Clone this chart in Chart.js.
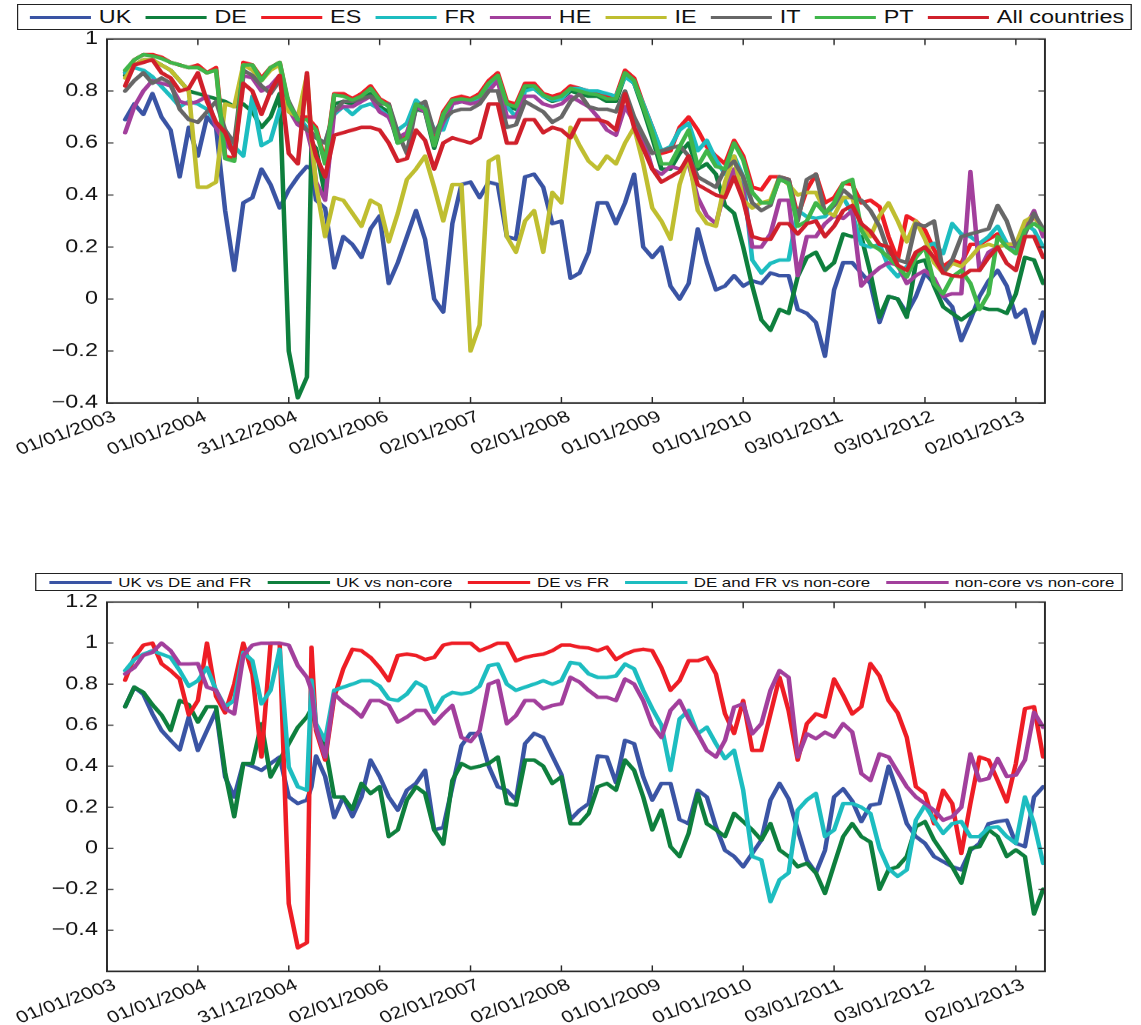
<!DOCTYPE html>
<html>
<head>
<meta charset="utf-8">
<script src="https://cdn.jsdelivr.net/npm/chart.js@4.4.1/dist/chart.umd.min.js"></script>
<style>
  html, body { margin: 0; padding: 0; background: #fff; }
  /* the reference figure is stretched sideways, so the page is drawn narrow and widened */
  #page { position: absolute; left: 0; top: 0; width: 878px; height: 1025px;
          transform: scaleX(1.2995); transform-origin: 0 0;
          font-family: "Liberation Sans", Arial, sans-serif; color: #111; }
  .legend { position: absolute; box-sizing: border-box; border: 1px solid #222; background: #fff;
            display: flex; align-items: center; white-space: nowrap; }
  .legend .item { display: flex; align-items: center; }
  .legend .swatch { display: inline-block; height: 3px; }
  #topLegend { left: 13px; top: 4px; width: 858px; height: 26px; padding-left: 9px; font-size: 18px; }
  #topLegend .swatch { width: 47px; margin-right: 6px; }
  #topLegend .item { margin-right: 11px; }
  #botLegend { left: 27px; top: 573px; width: 837px; height: 18px; padding-left: 10px; font-size: 13px; }
  #botLegend .swatch { width: 48px; margin-right: 5px; }
  #botLegend .item { margin-right: 12px; }
  canvas { position: absolute; left: 0; }
  #topChart { top: 0; }
  #botChart { top: 540px; }
</style>
</head>
<body>
<div id="page">
  <canvas id="topChart" width="878" height="470" style="width:878px;height:470px"></canvas>
  <canvas id="botChart" width="878" height="485" style="width:878px;height:485px"></canvas>
  <div id="topLegend" class="legend"></div>
  <div id="botLegend" class="legend"></div>
</div>
<script>
const FONT = '"Liberation Sans", Arial, sans-serif';

// sample dates as fractional years
const dates = [
  2003.2, 2003.3, 2003.4, 2003.5, 2003.6, 2003.7, 2003.8, 2003.9, 2004.0, 2004.1,
  2004.2, 2004.3, 2004.4, 2004.5, 2004.6, 2004.7, 2004.8, 2004.9, 2005.0, 2005.1,
  2005.2, 2005.25, 2005.3, 2005.4, 2005.5, 2005.6, 2005.7, 2005.8, 2005.9, 2006.0, 2006.1,
  2006.2, 2006.3, 2006.4, 2006.5, 2006.6, 2006.7, 2006.8, 2006.9, 2007.0, 2007.1,
  2007.2, 2007.3, 2007.4, 2007.5, 2007.6, 2007.7, 2007.8, 2007.9, 2008.0, 2008.1,
  2008.2, 2008.3, 2008.4, 2008.5, 2008.6, 2008.7, 2008.8, 2008.9, 2009.0, 2009.1,
  2009.2, 2009.3, 2009.4, 2009.5, 2009.6, 2009.7, 2009.8, 2009.9, 2010.0, 2010.1,
  2010.2, 2010.3, 2010.4, 2010.5, 2010.6, 2010.7, 2010.8, 2010.9, 2011.0, 2011.1,
  2011.2, 2011.3, 2011.4, 2011.5, 2011.6, 2011.7, 2011.8, 2011.9, 2012.0, 2012.1,
  2012.2, 2012.3, 2012.4, 2012.5, 2012.6, 2012.7, 2012.8, 2012.9, 2013.0, 2013.1,
  2013.2, 2013.3
];

const xTickYears = [2003, 2004, 2005, 2006, 2007, 2008, 2009, 2010, 2011, 2012, 2013];
const xTickLabels = ['01/01/2003', '01/01/2004', '31/12/2004', '02/01/2006', '02/01/2007', '02/01/2008',
                     '01/01/2009', '01/01/2010', '03/01/2011', '03/01/2012', '02/01/2013'];

const topTicks = [-0.4, -0.2, 0, 0.2, 0.4, 0.6, 0.8, 1];
const botTicks = [-0.4, -0.2, 0, 0.2, 0.4, 0.6, 0.8, 1, 1.2];

// ---- top panel ----
const topNames = ['UK', 'DE', 'ES', 'FR', 'HE', 'IE', 'IT', 'PT', 'All countries'];
const topColors = ['#3a54a4', '#0e7f3d', '#ee1d25', '#1dbdc0', '#a23f9c', '#bfbe30', '#676767', '#40b64a', '#d0202b'];

const ukTop = [
  0.69, 0.75, 0.71, 0.79, 0.70, 0.65, 0.47, 0.66, 0.55, 0.70,
  0.66, 0.34, 0.11, 0.37, 0.39, 0.50, 0.44, 0.35, 0.42, 0.47,
  0.51, 0.50, 0.38, 0.35, 0.12, 0.24, 0.21, 0.16, 0.27, 0.32, 0.06,
  0.14, 0.24, 0.34, 0.23, 0.00, -0.05, 0.29, 0.44, 0.45, 0.39,
  0.45, 0.44, 0.24, 0.23, 0.47, 0.48, 0.43, 0.29, 0.30, 0.08,
  0.10, 0.18, 0.37, 0.37, 0.29, 0.37, 0.48, 0.20, 0.16, 0.20,
  0.05, 0.00, 0.06, 0.27, 0.14, 0.035, 0.05, 0.09, 0.05, 0.07,
  0.06, 0.10, 0.09, 0.09, -0.04, -0.055, -0.09, -0.22, 0.035, 0.14,
  0.14, 0.10, 0.06, -0.09, 0.01, 0.00, -0.055, 0.01, 0.10, 0.06,
  0.01, -0.03, -0.16, -0.08, 0.01, 0.07, 0.11, 0.05, -0.07, -0.04,
  -0.17, -0.05
];
const deTop = [
  0.86, 0.90, 0.92, 0.92, 0.90, 0.88, 0.84, 0.80, 0.79, 0.78,
  0.77, 0.76, 0.74, 0.75, 0.72, 0.66, 0.70, 0.79, -0.20, -0.38,
  -0.30, 0.60, 0.58, 0.40, 0.75, 0.76, 0.75, 0.77, 0.79, 0.74, 0.72,
  0.60, 0.62, 0.73, 0.72, 0.58, 0.70, 0.76, 0.76, 0.76, 0.77,
  0.82, 0.85, 0.74, 0.73, 0.81, 0.81, 0.78, 0.76, 0.77, 0.80,
  0.79, 0.78, 0.78, 0.76, 0.76, 0.86, 0.83, 0.73, 0.62, 0.50,
  0.50, 0.56, 0.60, 0.50, 0.52, 0.48, 0.36, 0.33, 0.20, 0.05,
  -0.08, -0.12, -0.04, -0.055, 0.086, 0.16, 0.18, 0.11, 0.14, 0.25,
  0.24, 0.24, 0.10, -0.07, 0.01, 0.00, -0.07, 0.14, 0.15, 0.05,
  -0.03, -0.055, -0.08, -0.055, -0.03, -0.04, -0.04, -0.055, 0.02, 0.16,
  0.15, 0.06
];
const esTop = [
  0.87, 0.92, 0.94, 0.94, 0.93, 0.91, 0.90, 0.89, 0.90, 0.87,
  0.89, 0.55, 0.54, 0.91, 0.90, 0.85, 0.89, 0.91, 0.74, 0.70,
  0.70, 0.68, 0.66, 0.53, 0.79, 0.79, 0.77, 0.79, 0.82, 0.77, 0.75,
  0.61, 0.63, 0.76, 0.74, 0.60, 0.72, 0.77, 0.78, 0.77, 0.79,
  0.84, 0.87, 0.76, 0.75, 0.83, 0.83, 0.79, 0.78, 0.79, 0.82,
  0.81, 0.80, 0.79, 0.78, 0.78, 0.88, 0.85, 0.75, 0.66, 0.56,
  0.57, 0.66, 0.70, 0.65, 0.585, 0.55, 0.52, 0.61, 0.55, 0.43,
  0.42, 0.47, 0.47, 0.46, 0.32, 0.42, 0.48, 0.37, 0.39, 0.445,
  0.44, 0.37, 0.38, 0.355, 0.24, 0.15, 0.32, 0.30, 0.265, 0.19,
  0.125, 0.15, 0.137, 0.21, 0.21, 0.23, 0.25, 0.21, 0.21, 0.265,
  0.32, 0.265
];
const frTop = [
  0.87, 0.89, 0.88, 0.855, 0.817, 0.78, 0.74, 0.76, 0.75, 0.73,
  0.676, 0.65, 0.586, 0.55, 0.78, 0.59, 0.61, 0.73, 0.74, 0.70,
  0.66, 0.64, 0.62, 0.60, 0.71, 0.74, 0.71, 0.74, 0.75, 0.73, 0.70,
  0.65, 0.676, 0.765, 0.73, 0.65, 0.65, 0.75, 0.76, 0.76, 0.77,
  0.82, 0.855, 0.74, 0.70, 0.80, 0.81, 0.78, 0.765, 0.77, 0.81,
  0.81, 0.80, 0.80, 0.79, 0.78, 0.855, 0.83, 0.75, 0.66, 0.57,
  0.586, 0.65, 0.676, 0.57, 0.61, 0.535, 0.48, 0.55, 0.47, 0.15,
  0.10, 0.137, 0.15, 0.15, 0.34, 0.317, 0.31, 0.317, 0.36, 0.39,
  0.33, 0.21, 0.20, 0.21, 0.125, 0.086, 0.125, 0.163, 0.20, 0.214,
  0.175, 0.29, 0.25, 0.24, 0.214, 0.24, 0.28, 0.214, 0.175, 0.29,
  0.265, 0.20
];
const heTop = [
  0.64, 0.74, 0.80, 0.84, 0.83, 0.82, 0.76, 0.75, 0.76, 0.78,
  0.66, 0.60, 0.56, 0.86, 0.85, 0.80, 0.82, 0.86, 0.73, 0.67,
  0.65, 0.58, 0.45, 0.38, 0.72, 0.74, 0.74, 0.76, 0.78, 0.72, 0.70,
  0.62, 0.64, 0.74, 0.72, 0.60, 0.68, 0.75, 0.76, 0.75, 0.76,
  0.80, 0.84, 0.70, 0.70, 0.78, 0.78, 0.75, 0.74, 0.75, 0.78,
  0.76, 0.74, 0.70, 0.65, 0.63, 0.74, 0.68, 0.62, 0.50, 0.48,
  0.51, 0.50, 0.52, 0.39, 0.32, 0.29, 0.42, 0.50, 0.42, 0.20,
  0.20, 0.25, 0.38, 0.38, 0.09, 0.24, 0.24, 0.29, 0.32, 0.31,
  0.34, 0.05, 0.09, 0.12, 0.14, 0.13, 0.06, 0.09, 0.11, 0.08,
  0.01, 0.02, 0.02, 0.49, 0.11, 0.18, 0.20, 0.21, 0.20, 0.27,
  0.34, 0.24
];
const ieTop = [
  0.85, 0.90, 0.92, 0.92, 0.90, 0.88, 0.84, 0.80, 0.43, 0.43,
  0.45, 0.75, 0.74, 0.90, 0.88, 0.84, 0.88, 0.90, 0.72, 0.70,
  0.86, 0.62, 0.44, 0.24, 0.39, 0.38, 0.33, 0.28, 0.38, 0.36, 0.22,
  0.33, 0.46, 0.50, 0.55, 0.43, 0.30, 0.44, 0.44, -0.20, -0.10,
  0.53, 0.55, 0.24, 0.18, 0.30, 0.34, 0.18, 0.41, 0.37, 0.66,
  0.59, 0.53, 0.50, 0.55, 0.52, 0.60, 0.66, 0.52, 0.35, 0.30,
  0.23, 0.44, 0.55, 0.34, 0.29, 0.28, 0.45, 0.55, 0.38, 0.35,
  0.37, 0.38, 0.47, 0.44, 0.40, 0.41, 0.41, 0.34, 0.32, 0.39,
  0.39, 0.28, 0.24, 0.32, 0.37, 0.30, 0.22, 0.30, 0.23, 0.14,
  0.10, 0.137, 0.125, 0.16, 0.20, 0.21, 0.20, 0.21, 0.21, 0.30,
  0.32, 0.265
];
const itTop = [
  0.80, 0.84, 0.87, 0.83, 0.85, 0.83, 0.73, 0.69, 0.68, 0.72,
  0.76, 0.65, 0.60, 0.88, 0.86, 0.82, 0.79, 0.84, 0.76, 0.69,
  0.65, 0.64, 0.62, 0.60, 0.72, 0.76, 0.76, 0.77, 0.78, 0.75, 0.75,
  0.64, 0.56, 0.74, 0.76, 0.64, 0.69, 0.72, 0.73, 0.73, 0.75,
  0.80, 0.80, 0.66, 0.67, 0.76, 0.74, 0.72, 0.68, 0.70, 0.76,
  0.79, 0.74, 0.73, 0.73, 0.72, 0.80, 0.70, 0.63, 0.56, 0.57,
  0.58, 0.59, 0.55, 0.47, 0.45, 0.43, 0.50, 0.53, 0.47, 0.37,
  0.34, 0.36, 0.47, 0.46, 0.30, 0.46, 0.48, 0.33, 0.36, 0.42,
  0.39, 0.38, 0.34, 0.28, 0.18, 0.15, 0.14, 0.29, 0.28, 0.30,
  0.10, 0.15, 0.24, 0.25, 0.26, 0.27, 0.36, 0.30, 0.20, 0.25,
  0.33, 0.27
];
const ptTop = [
  0.88, 0.92, 0.94, 0.935, 0.925, 0.91, 0.90, 0.89, 0.89, 0.87,
  0.88, 0.54, 0.53, 0.90, 0.90, 0.84, 0.89, 0.91, 0.75, 0.69,
  0.69, 0.67, 0.65, 0.52, 0.785, 0.78, 0.765, 0.78, 0.81, 0.765, 0.74,
  0.60, 0.62, 0.75, 0.73, 0.59, 0.71, 0.765, 0.77, 0.765, 0.78,
  0.83, 0.86, 0.75, 0.74, 0.82, 0.82, 0.785, 0.77, 0.78, 0.81,
  0.80, 0.79, 0.785, 0.77, 0.77, 0.87, 0.84, 0.74, 0.64, 0.52,
  0.52, 0.585, 0.65, 0.51, 0.57, 0.51, 0.50, 0.60, 0.535, 0.41,
  0.37, 0.37, 0.46, 0.445, 0.28, 0.30, 0.37, 0.33, 0.37, 0.445,
  0.46, 0.265, 0.21, 0.19, 0.16, 0.125, 0.085, 0.16, 0.20, 0.06,
  0.02, 0.085, 0.11, 0.06, -0.04, 0.02, 0.24, 0.20, 0.175, 0.265,
  0.29, 0.265
];
const allTop = [
  0.82, 0.90, 0.91, 0.92, 0.87, 0.85, 0.80, 0.81, 0.87, 0.76,
  0.68, 0.64, 0.55, 0.83, 0.80, 0.71, 0.80, 0.86, 0.56, 0.52,
  0.87, 0.62, 0.55, 0.47, 0.63, 0.64, 0.65, 0.66, 0.66, 0.65, 0.60,
  0.53, 0.54, 0.65, 0.61, 0.50, 0.60, 0.62, 0.61, 0.60, 0.62,
  0.75, 0.75, 0.60, 0.60, 0.69, 0.69, 0.64, 0.66, 0.65, 0.62,
  0.69, 0.69, 0.69, 0.68, 0.65, 0.79, 0.66, 0.58, 0.50, 0.45,
  0.47, 0.49, 0.55, 0.44, 0.42, 0.40, 0.39, 0.47, 0.38, 0.24,
  0.23, 0.23, 0.29, 0.29, 0.25, 0.29, 0.30, 0.24, 0.28, 0.34,
  0.36, 0.29, 0.26, 0.21, 0.20, 0.13, 0.11, 0.18, 0.20, 0.16,
  0.10, 0.09, 0.086, 0.11, 0.11, 0.16, 0.20, 0.137, 0.11, 0.24,
  0.24, 0.16
];

// ---- bottom panel ----
const botNames = ['UK vs DE and FR', 'UK vs non-core', 'DE vs FR', 'DE and FR vs non-core', 'non-core vs non-core'];
const botColors = ['#3a54a4', '#0e7f3d', '#ee1d25', '#1dbdc0', '#a23f9c'];

const ukVsCore = [
  0.69, 0.785, 0.75, 0.655, 0.574, 0.526, 0.48, 0.64, 0.477, 0.574,
  0.67, 0.348, 0.25, 0.413, 0.40, 0.38, 0.413, 0.445, 0.25, 0.218,
  0.235, 0.30, 0.45, 0.35, 0.15, 0.25, 0.154, 0.25, 0.43, 0.35, 0.25,
  0.186, 0.283, 0.316, 0.38, 0.09, 0.10, 0.30, 0.50, 0.56, 0.56,
  0.40, 0.30, 0.283, 0.235, 0.51, 0.56, 0.54, 0.45, 0.36, 0.14,
  0.186, 0.218, 0.45, 0.445, 0.32, 0.526, 0.51, 0.348, 0.235, 0.316,
  0.316, 0.14, 0.12, 0.283, 0.25, 0.105, -0.01, -0.04, -0.09, -0.025,
  0.04, 0.235, 0.316, 0.24, 0.09, -0.057, -0.12, -0.01, 0.25, 0.29,
  0.23, 0.13, 0.21, 0.218, 0.40, 0.27, 0.12, 0.057, 0.024, -0.04,
  -0.065, -0.09, -0.105, -0.01, 0.024, 0.12, 0.13, 0.137, 0.024, 0.008,
  0.25, 0.30
];
const ukVsNonCore = [
  0.69, 0.785, 0.76, 0.70, 0.65, 0.574, 0.72, 0.70, 0.615, 0.69,
  0.69, 0.37, 0.154, 0.413, 0.413, 0.607, 0.348, 0.43, 0.51, 0.59,
  0.64, 0.68, 0.59, 0.50, 0.25, 0.25, 0.19, 0.316, 0.267, 0.30, 0.057,
  0.09, 0.235, 0.30, 0.267, 0.09, 0.02, 0.33, 0.413, 0.39, 0.40,
  0.413, 0.445, 0.218, 0.21, 0.43, 0.43, 0.40, 0.316, 0.348, 0.12,
  0.12, 0.17, 0.30, 0.316, 0.283, 0.43, 0.38, 0.25, 0.09, 0.186,
  0.008, -0.04, 0.073, 0.267, 0.12, 0.09, 0.057, 0.17, 0.13, 0.09,
  0.04, 0.12, -0.008, -0.04, -0.09, -0.073, -0.12, -0.22, -0.08, 0.057,
  0.12, 0.057, 0.03, -0.20, -0.105, -0.09, -0.04, 0.105, 0.13, 0.04,
  -0.025, -0.09, -0.17, 0.0, 0.008, 0.09, 0.057, -0.04, -0.008, -0.04,
  -0.32, -0.20
];
const deVsFr = [
  0.82, 0.93, 0.99, 1.0, 0.90, 0.866, 0.825, 0.65, 0.72, 1.0,
  0.74, 0.66, 0.80, 1.0, 0.85, 0.445, 1.0, 1.0, -0.27, -0.485,
  -0.46, 0.98, 0.574, 0.43, 0.736, 0.875, 0.97, 0.963, 0.93, 0.88, 0.817,
  0.94, 0.946, 0.94, 0.92, 0.93, 0.99, 1.0, 1.0, 1.0, 0.963,
  0.98, 1.0, 1.0, 0.914, 0.93, 0.94, 0.946, 0.963, 0.99, 0.99,
  0.98, 0.976, 0.963, 0.98, 0.92, 0.946, 0.963, 0.97, 0.963, 0.88,
  0.77, 0.817, 0.914, 0.914, 0.93, 0.85, 0.655, 0.56, 0.72, 0.477,
  0.477, 0.655, 0.833, 0.67, 0.43, 0.607, 0.655, 0.64, 0.825, 0.745,
  0.655, 0.69, 0.90, 0.84, 0.72, 0.66, 0.54, 0.30, 0.267, 0.12,
  0.283, 0.218, -0.025, 0.218, 0.445, 0.43, 0.33, 0.226, 0.413, 0.68,
  0.69, 0.445
];
const coreVsNonCore = [
  0.866, 0.92, 0.946, 0.963, 0.946, 0.93, 0.866, 0.79, 0.817, 0.88,
  0.77, 0.69, 0.72, 0.955, 0.914, 0.704, 0.77, 0.97, 0.396, 0.30,
  0.283, 0.82, 0.607, 0.526, 0.77, 0.785, 0.80, 0.817, 0.817, 0.79, 0.728,
  0.72, 0.752, 0.81, 0.785, 0.663, 0.736, 0.76, 0.752, 0.76, 0.79,
  0.89, 0.898, 0.80, 0.77, 0.785, 0.80, 0.817, 0.80, 0.817, 0.906,
  0.898, 0.85, 0.833, 0.833, 0.84, 0.898, 0.874, 0.77, 0.68, 0.60,
  0.38, 0.63, 0.672, 0.558, 0.59, 0.51, 0.437, 0.477, 0.283, -0.04,
  -0.057, -0.26, -0.154, -0.12, 0.186, 0.235, 0.267, 0.057, 0.089, 0.218,
  0.218, 0.20, 0.17, 0.0, -0.10, -0.137, -0.105, 0.137, 0.21, 0.137,
  0.073, 0.12, 0.13, 0.057, 0.057, 0.10, 0.105, 0.057, 0.024, 0.25,
  0.12, -0.073
];
const nonCoreVsNonCore = [
  0.85, 0.88, 0.94, 0.955, 1.0, 0.963, 0.898, 0.898, 0.90, 0.785,
  0.77, 0.68, 0.655, 0.94, 0.99, 1.0, 1.0, 1.0, 0.99, 0.89,
  0.833, 0.77, 0.59, 0.445, 0.752, 0.71, 0.68, 0.64, 0.72, 0.72, 0.696,
  0.615, 0.64, 0.672, 0.672, 0.607, 0.655, 0.696, 0.54, 0.52, 0.574,
  0.80, 0.817, 0.607, 0.647, 0.72, 0.72, 0.68, 0.696, 0.704, 0.833,
  0.81, 0.769, 0.736, 0.736, 0.72, 0.825, 0.80, 0.72, 0.60, 0.54,
  0.672, 0.72, 0.63, 0.558, 0.477, 0.445, 0.526, 0.688, 0.704, 0.558,
  0.607, 0.77, 0.866, 0.833, 0.445, 0.558, 0.534, 0.566, 0.542, 0.607,
  0.566, 0.364, 0.33, 0.46, 0.445, 0.372, 0.30, 0.25, 0.218, 0.186,
  0.137, 0.154, 0.20, 0.46, 0.33, 0.34, 0.437, 0.35, 0.356, 0.43,
  0.663, 0.59
];

// axes box with inward ticks on all four sides, like the original plot
const boxPlugin = {
  id: 'axesBox',
  afterDatasetsDraw(chart) {
    const { ctx, chartArea, scales } = chart;
    const { left, right, top, bottom } = chartArea;
    ctx.save();
    ctx.strokeStyle = '#2a2a2a';
    ctx.lineWidth = 1.1;
    ctx.beginPath();
    scales.x.ticks.forEach(t => {
      const px = scales.x.getPixelForValue(t.value);
      ctx.moveTo(px, bottom); ctx.lineTo(px, bottom - 6);
      ctx.moveTo(px, top); ctx.lineTo(px, top + 6);
    });
    scales.y.ticks.forEach(t => {
      const py = scales.y.getPixelForValue(t.value);
      ctx.moveTo(left, py); ctx.lineTo(left + 5, py);
      ctx.moveTo(right, py); ctx.lineTo(right - 5, py);
    });
    ctx.stroke();
    ctx.lineWidth = 1.5;
    ctx.strokeRect(left, top, right - left, bottom - top);
    ctx.restore();
  }
};

function formatY(v) {
  const r = Math.round(v * 10) / 10;
  if (r === 0) return '0';
  return (r < 0 ? '\u2212' : '') + Math.abs(r);
}

function makeChart(canvasId, names, colors, series, yMin, yMax, yTicks, padTop, xAxisHeight) {
  return new Chart(document.getElementById(canvasId), {
    type: 'line',
    data: {
      datasets: series.map((s, i) => ({
        label: names[i],
        data: dates.map((d, k) => ({ x: d, y: s[k] })),
        borderColor: colors[i],
        backgroundColor: colors[i],
        borderWidth: 3.5,
        pointRadius: 0,
        tension: 0,
        fill: false,
        borderJoinStyle: 'round',
        borderCapStyle: 'round',
        order: series.length - i
      }))
    },
    options: {
      responsive: false,
      animation: false,
      devicePixelRatio: 1.3,
      layout: { padding: { top: padTop, right: 74.2, left: 0, bottom: 0 } },
      plugins: { legend: { display: false }, tooltip: { enabled: false } },
      scales: {
        x: {
          type: 'linear', min: 2003, max: 2013.32,
          grid: { display: false, drawTicks: false },
          border: { display: false },
          afterBuildTicks: sc => { sc.ticks = xTickYears.map(v => ({ value: v })); },
          afterFit: sc => { sc.height = xAxisHeight; },
          ticks: {
            autoSkip: false, minRotation: 25, maxRotation: 25, padding: 4, labelOffset: 6,
            color: '#111', font: { family: FONT, size: 16.5 },
            callback: (v, i) => xTickLabels[i]
          }
        },
        y: {
          min: yMin, max: yMax,
          grid: { display: false, drawTicks: false },
          border: { display: false },
          afterBuildTicks: sc => { sc.ticks = yTicks.map(v => ({ value: v })); },
          afterFit: sc => { sc.width = 82.3; },
          ticks: {
            padding: 7, color: '#111', font: { family: FONT, size: 18 },
            callback: v => formatY(v)
          }
        }
      }
    },
    plugins: [boxPlugin]
  });
}

function buildLegend(id, names, colors) {
  const el = document.getElementById(id);
  names.forEach((n, i) => {
    const item = document.createElement('span');
    item.className = 'item';
    const sw = document.createElement('span');
    sw.className = 'swatch';
    sw.style.background = colors[i];
    const tx = document.createElement('span');
    tx.textContent = n;
    item.appendChild(sw);
    item.appendChild(tx);
    el.appendChild(item);
  });
}

makeChart('topChart', topNames, topColors,
  [ukTop, deTop, esTop, frTop, heTop, ieTop, itTop, ptTop, allTop],
  -0.4, 1, topTicks, 39, 67);
makeChart('botChart', botNames, botColors,
  [ukVsCore, ukVsNonCore, deVsFr, coreVsNonCore, nonCoreVsNonCore],
  -0.6, 1.2, botTicks, 62, 54);

buildLegend('topLegend', topNames, topColors);
buildLegend('botLegend', botNames, botColors);
</script>
</body>
</html>
